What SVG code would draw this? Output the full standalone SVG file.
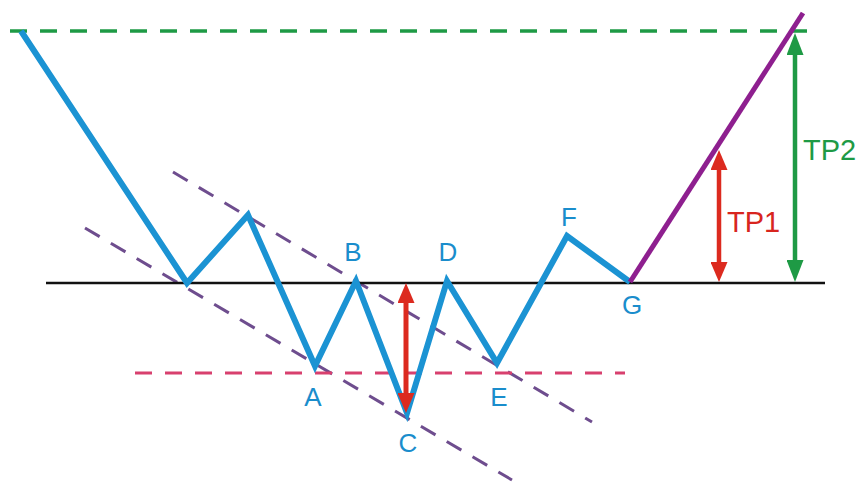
<svg xmlns="http://www.w3.org/2000/svg" width="863" height="482" viewBox="0 0 863 482">
  <style>
    .lbl { font-family: "Liberation Sans", Arial, sans-serif; font-size: 26px; text-anchor: middle; }
    .blue { fill: #1a8dcc; }
    .tp { font-family: "Liberation Sans", Arial, sans-serif; font-size: 29px; }
    .dash { fill: none; stroke-width: 3; stroke-dasharray: 17 13; }
  </style>
  <defs>
    <marker id="ahRed" viewBox="0 0 20 17" refX="2" refY="8.5" markerWidth="20" markerHeight="17" markerUnits="userSpaceOnUse" orient="auto-start-reverse">
      <path d="M0,0 L20,8.5 L0,17 z" fill="#dc2a1f"/>
    </marker>
    <marker id="ahGreen" viewBox="0 0 22 17" refX="2" refY="8.5" markerWidth="22" markerHeight="17" markerUnits="userSpaceOnUse" orient="auto-start-reverse">
      <path d="M0,0 L22,8.5 L0,17 z" fill="#1e9a45"/>
    </marker>
  </defs>
  <rect width="863" height="482" fill="#ffffff"/>

  <g id="connectors">
    <line x1="10" y1="31" x2="815" y2="31" class="dash" stroke="#1e9a45" style="stroke-width:3.4"/>
    <line x1="173" y1="172" x2="592" y2="422" class="dash" stroke="#6e4d8e"/>
    <line x1="85" y1="228" x2="512" y2="480" class="dash" stroke="#6e4d8e"/>
    <line x1="135" y1="373" x2="625" y2="373" class="dash" stroke="#d8406e"/>
    <line x1="46" y1="283" x2="825" y2="283" stroke="#111111" stroke-width="2.5"/>
    <polyline points="21,31 187,283 248,215 315,366 356,281 407,413 447,281 497,363 567,236 630,282" fill="none" stroke="#1b93d3" stroke-width="6" stroke-linejoin="miter" stroke-miterlimit="10"/>
    <line x1="630" y1="282" x2="803" y2="13" stroke="#8e1f8f" stroke-width="5"/>
    <line x1="406" y1="301" x2="406" y2="395" stroke="#dc2a1f" stroke-width="5" marker-start="url(#ahRed)" marker-end="url(#ahRed)"/>
    <line x1="719" y1="168" x2="719" y2="264" stroke="#dc2a1f" stroke-width="4.5" marker-start="url(#ahRed)" marker-end="url(#ahRed)"/>
    <line x1="795" y1="53" x2="795" y2="262" stroke="#1e9a45" stroke-width="4.5" marker-start="url(#ahGreen)" marker-end="url(#ahGreen)"/>
  </g>

  <g id="node-A"><text class="lbl blue" x="313" y="406">A</text></g>
  <g id="node-B"><text class="lbl blue" x="353" y="261">B</text></g>
  <g id="node-C"><text class="lbl blue" x="408" y="452">C</text></g>
  <g id="node-D"><text class="lbl blue" x="448" y="261">D</text></g>
  <g id="node-E"><text class="lbl blue" x="499" y="406">E</text></g>
  <g id="node-F"><text class="lbl blue" x="569" y="226">F</text></g>
  <g id="node-G"><text class="lbl blue" x="632" y="314">G</text></g>
  <g id="label-TP1"><text class="tp" x="727" y="232" fill="#d8251e">TP1</text></g>
  <g id="label-TP2"><text class="tp" x="803" y="160" fill="#1e9a45">TP2</text></g>
</svg>
